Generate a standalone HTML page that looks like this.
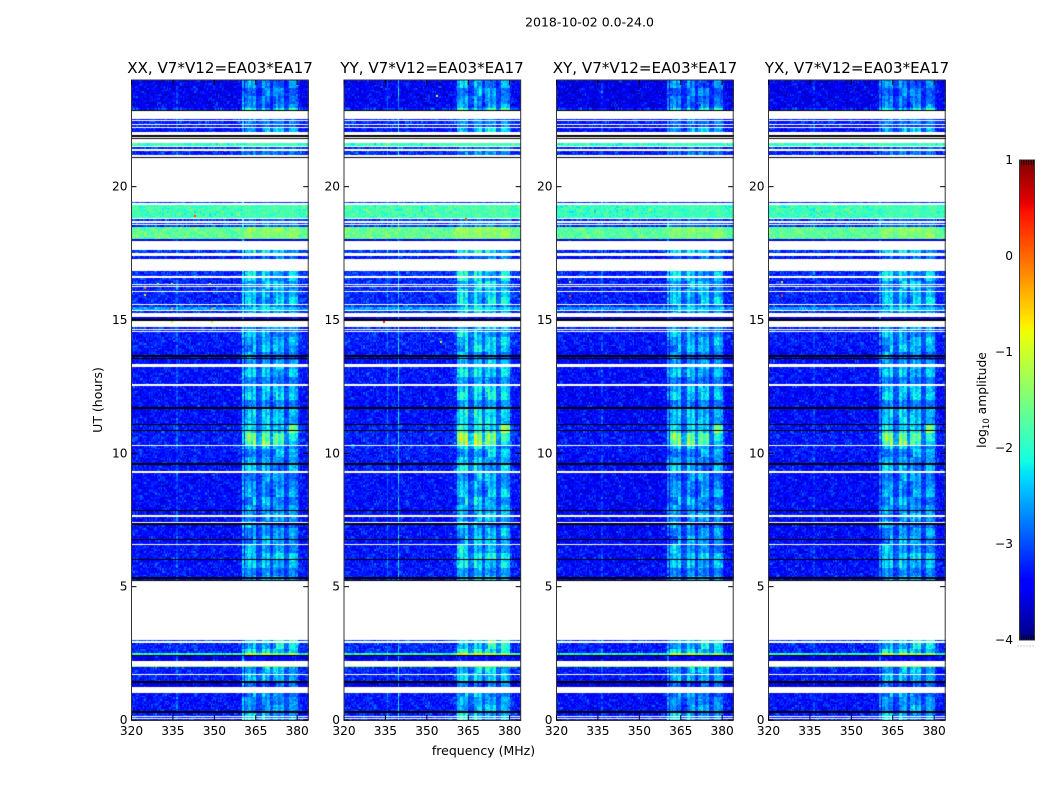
<!DOCTYPE html>
<html lang="en">
<head>
<meta charset="utf-8">
<title>2018-10-02 0.0-24.0</title>
<style>
html,body{margin:0;padding:0;background:#fff;}
#chart{position:relative;width:1050px;height:800px;overflow:hidden;background:#fff;font-family:"DejaVu Sans","Liberation Sans",sans-serif;}
#chart canvas{position:absolute;display:block;}
#overlay{position:absolute;left:0;top:0;}
#overlay text{fill:#000;font-family:"DejaVu Sans","Liberation Sans",sans-serif;}
</style>
</head>
<body>
<div id="chart">
<svg id="overlay" width="1050" height="800" viewBox="0 0 1050 800">
  <text x="589.5" y="26.5" font-size="12.5" text-anchor="middle">2018-10-02 0.0-24.0</text>
  <text x="220" y="73" font-size="15.1" text-anchor="middle">XX, V7*V12=EA03*EA17</text>
  <text x="432" y="73" font-size="15.1" text-anchor="middle">YY, V7*V12=EA03*EA17</text>
  <text x="645" y="73" font-size="15.1" text-anchor="middle">XY, V7*V12=EA03*EA17</text>
  <text x="857" y="73" font-size="15.1" text-anchor="middle">YX, V7*V12=EA03*EA17</text>
  <text x="483.5" y="755" font-size="12.5" text-anchor="middle">frequency (MHz)</text>
  <text transform="translate(102,400) rotate(-90)" font-size="12.5" text-anchor="middle">UT (hours)</text>
  <text transform="translate(986,400) rotate(-90)" font-size="12.3" text-anchor="middle">log<tspan font-size="8.5" dy="3">10</tspan><tspan dy="-3"> amplitude</tspan></text>
</svg>
</div>
<script>
/* ---------- axis data ---------- */
const freqTicks = [320, 335, 350, 365, 380];
const utTicks = [0, 5, 10, 15, 20];
const colorTicks = [1, 0, -1, -2, -3, -4];
const panelNames = ['xx', 'yy', 'xy', 'yx'];

/* ---------- time bands: top edge (UT), log10 amplitude (null = flagged, ZERO = zero amplitude), RFI strength ---------- */
const ZERO = -99;
const bandTop = [
24,22.95,22.875,22.8375,22.5375,22.5,22.4625,22.369,22.294,22.2375,
22.2,22.069,21.919,21.881,21.825,21.7875,21.619,21.525,21.4875,21.431,
21.356,21.225,21.1125,21.075,19.425,19.3875,19.331,18.844,18.769,18.7125,
18.656,18.619,18.544,18.506,18.469,18.056,17.944,17.625,17.55,17.4,
17.2875,16.856,16.65,16.575,16.3875,16.3125,16.275,16.2375,16.0875,16.05,
15.6,15.5625,15.506,15.469,15.394,15.356,15.2625,15.131,15.0375,14.98,
14.719,14.6625,14.625,14.5875,14.55,14.0625,14.025,13.669,13.631,13.575,
13.5375,13.5,13.4625,13.35,13.2375,12.6,12.525,11.719,11.681,11.1,
11.044,10.875,10.8375,10.3125,10.275,10.0875,10.05,9.656,9.581,9.356,
9.281,8.55,8.5125,8.456,8.419,7.875,7.8375,7.669,7.594,7.425,
7.3875,7.3125,6.7875,6.75,6.619,6.581,6.056,5.9875,5.906,5.869,
5.381,5.306,5.25,5.194,3.0,2.944,2.8875,2.494,2.4375,2.4,
2.231,2.025,1.9875,1.725,1.6875,1.5,1.4625,1.3875,1.219,1.031,
0.319,0.244,0.15,0.1125,0.075,0.0375
];
const bandLevel = [
-3.45,-3.2,ZERO,null,-3.3,null,-3.2,null,-3.3,null,
-3.3,null,ZERO,null,ZERO,null,-1.9,null,-3.2,null,
-3.2,null,ZERO,null,-3.1,null,-1.85,null,-3.1,null,
-3.1,null,-3.1,null,-1.65,-3.55,null,-3.1,null,-3.3,
null,-3.15,null,-3.2,null,-3.2,null,-3.2,null,-3.2,
null,-3.2,null,-2.6,null,-3.2,null,-3.6,ZERO,null,
-3.2,null,-3.2,null,-3.25,null,-3.3,ZERO,-3.35,ZERO,
-3.35,-3.35,-3.35,null,-3.3,null,-3.35,ZERO,-3.35,ZERO,
-3.25,ZERO,-3.25,null,-3.25,null,-3.3,ZERO,-3.3,null,
-3.35,null,-3.35,ZERO,-3.35,ZERO,-3.35,null,-3.35,null,
ZERO,-3.35,ZERO,-3.35,null,-3.3,ZERO,-3.35,null,-3.3,
ZERO,-3.35,ZERO,null,-3.0,null,-3.2,-2.0,ZERO,-3.55,
null,-1.3,-3.25,null,-3.25,null,ZERO,-3.5,null,-3.3,
ZERO,-3.25,null,-3.25,null,-3.25
];
const bandRfi = [
0.9,1.3,0,0,0.6,0,0.6,0,0.5,0,
1,0,0,0,0,0,0.1,0,0.4,0,
0.5,0,0,0,0,0,0.05,0,0.2,0,
0.3,0,0.3,0,0.35,0,0,1,0,0.6,
0,1,0,1,0,0.9,0,1,0,1,
0,0.8,0,0.5,0,0.9,0,0.3,0,0,
0.8,0,0.8,0,0.95,0,0.95,0,0.9,0,
0.9,0.9,0.9,0,1,0,1.1,0,1.1,0,
1.7,0,1.85,0,1,0,0.9,0,1,0,
0.9,0,0.9,0,1,0,1,0,0.9,0,
0,0.9,0,0.9,0,1.15,0,1,0,1,
0,1,0,0,1.3,0,1.2,1.1,0,0.2,
0,0.1,1,0,1,0,0,0.7,0,0.85,
0,1,0,1,0,1
];

/* ---------- spectral profile of the RFI block, one value per MHz from 320 to 383 ---------- */
const channelProfile = [
0,0,0,0,0,0,0,0,0,0,
0,0,0,0,0,0,0,0,0,0,
0,0,0,0,0,0,0,0,0,0,
0,0,0,0,0,0,0,0,0,0,
0.1,0.75,1,0.7,1,0.35,0.4,1,0.75,0.95,
0.35,0.8,1,0.7,0.9,0.3,0.35,0.9,0.85,0.7,
0.15,0.05,0,0
];

/* ---------- per-polarisation adjustments ---------- */
const panelLevelOffset = [0, 0.03, -0.05, -0.02];
const panelRfiGain = [0.98, 1.15, 1.02, 1.02];

/* ---------- narrow-band vertical lines ---------- */
const linePanel = [0, 0, 1, 1, 2, 2, 3, 3];
const lineFreq = [336.2, 360.2, 339.7, 335.7, 336.2, 360.2, 336.2, 360.2];
const lineBoost = [0.35, 0.8, 1.1, 0.45, 0.3, 0.6, 0.25, 0.5];

/* ---------- isolated hot pixels ---------- */
const hotPanel = [0,0,0,0,0,0,0,0,0,0, 1,1,1,1, 2,2, 3,3];
const hotUT = [16.24,15.98,16.39,16.39,16.39,15.45,15.45,14.96,14.96,18.94, 14.96,18.82,23.44,14.2, 15.94,16.46, 15.94,16.46];
const hotFreq = [324.3,324.3,329,334,347.9,334,348.6,334,348.6,342.5, 334,363.9,353.5,354.6, 324.2,324.2, 324.2,324.2];
const hotValue = [0,-0.7,-0.9,-0.9,-0.9,-0.3,-0.3,-1,-1,0.2, 0.3,0.2,-0.8,-1, 0.2,-0.6, 0.2,-0.6];

/* ---------- fine texture tiles (speckle and RFI blotches) ---------- */
const speckleA = [-.21,.08,-.34,.17,-.06,.29,-.15,.02,-.27,.41,-.11,.13,-.38,.05,.22,-.19,-.03,.33,-.24,.1,-.31,.19,-.08,.47,-.16,.01,-.29,.25,-.12,.07,-.36,.15,.31,-.22,-.05,.11,-.26,.38,-.14,.03,-.33,.21,-.09,.27,-.18,.06,-.4,.12,.35,-.2,-.02,.16,-.28,.09,-.13,.44,-.23,.04,-.3,.18,-.07];
const speckleB = [.12,-.09,.2,-.15,.03,-.22,.16,.27,-.05,-.18,.08,-.12,.24,-.02,-.25,.1,.18,-.07,-.2,.05,.3,-.14,-.01,.13,-.27,.07,-.1,.22,-.17,.01,.15,-.23,.09,-.04,.26,-.13,-.19,.11,.02,-.08,.19,-.16,.06];
const rowShiftA = [17,3,41,26,9,55,32,12,48,6,37,21,59,15,44,1,29,52,8,35,19,57,24,4,46,13,39,27,50];
const rowShiftB = [11,30,5,38,19,2,27,41,14,33,8,22,36,1,17,29,9,40,25,6,34,13,20];
const rfiWave = [1,.75,1.15,.9,.55,1.05,1.2,.7,.95,1.1,.6,1,.85,1.2,.75,.55,1.05,.9,1.15,.7,.85,1.2,.6,1];

/* ---------- layout ---------- */
const panelLeft = [131.5, 344, 556.5, 768.5];
const panelWidth = 176.7;
const plotTop = 80;
const plotHeight = 640;
const freqMin = 320, freqMax = 384, utMax = 24;
const channelMHz = 0.5, rowHours = 0.06;
const colorMin = -4, colorMax = 1;
const cbLeft = 1019.5, cbWidth = 15, cbTop = 160, cbHeight = 480;

/* ---------- scales ---------- */
function xPx(freq) { return (freq - freqMin) / (freqMax - freqMin) * panelWidth; }
function yPx(ut) { return (1 - ut / utMax) * plotHeight; }
function cbY(v) { return cbTop + (colorMax - v) / (colorMax - colorMin) * cbHeight; }

/* ---------- jet colormap ---------- */
function lerpStops(t, stops) {
  for (let i = 1; i < stops.length; i++) {
    if (t <= stops[i][0]) {
      const a = stops[i - 1], b = stops[i];
      return a[1] + (b[1] - a[1]) * (t - a[0]) / (b[0] - a[0]);
    }
  }
  return stops[stops.length - 1][1];
}
const jetR = [[0,0],[.35,0],[.66,1],[.89,1],[1,.5]];
const jetG = [[0,0],[.125,0],[.375,1],[.64,1],[.91,0],[1,0]];
const jetB = [[0,.5],[.11,1],[.34,1],[.65,0],[1,0]];
const lut = [];
for (let i = 0; i < 512; i++) {
  const t = i / 511;
  lut.push('rgb(' + Math.round(255 * lerpStops(t, jetR)) + ',' + Math.round(255 * lerpStops(t, jetG)) + ',' + Math.round(255 * lerpStops(t, jetB)) + ')');
}
function colorOf(v) {
  if (v < -50) return '#000';
  const t = Math.min(1, Math.max(0, (v - colorMin) / (colorMax - colorMin)));
  return lut[Math.round(t * 511)];
}

/* ---------- heatmap drawing ---------- */
function cellValue(p, band, row, col, freq) {
  const lvl = bandLevel[band];
  if (lvl === ZERO) return ZERO;
  const nA = speckleA[(col * 7 + rowShiftA[(row + p * 3) % rowShiftA.length] * 5) % speckleA.length];
  const nB = speckleB[(col * 13 + rowShiftB[(row + p * 5) % rowShiftB.length] * 3) % speckleB.length];
  const wave = rfiWave[(Math.floor(row / 5) + Math.floor(col / 8) * 3) % rfiWave.length];
  const prof = channelProfile[Math.floor(freq - freqMin)] || 0;
  const texture = prof > 0.2 ? 0.5 : 0.75;
  let v = lvl + panelLevelOffset[p] + texture * (nA + nB);
  v += bandRfi[band] * panelRfiGain[p] * prof * wave;
  for (let l = 0; l < lineFreq.length; l++) {
    if (linePanel[l] === p && Math.abs(freq + channelMHz / 2 - lineFreq[l]) < channelMHz / 2) {
      v += lineBoost[l] * wave * (lvl > -2.5 ? 0 : 1);
    }
  }
  return v;
}
function drawPanel(p, ctx) {
  const nChan = Math.round((freqMax - freqMin) / channelMHz);
  for (let b = 0; b < bandTop.length; b++) {
    if (bandLevel[b] === null) continue;
    const top = bandTop[b];
    const bottom = b + 1 < bandTop.length ? bandTop[b + 1] : 0;
    for (let ut = top; ut > bottom + 1e-6; ut -= rowHours) {
      const row = Math.floor((utMax - ut) / rowHours + 1e-6);
      const y0 = Math.round(yPx(ut));
      let y1 = Math.round(yPx(Math.max(bottom, ut - rowHours)));
      if (y1 <= y0) y1 = y0 + 1;
      for (let c = 0; c < nChan; c++) {
        const f = freqMin + c * channelMHz;
        const x0 = Math.round(xPx(f));
        const x1 = Math.round(xPx(f + channelMHz));
        ctx.fillStyle = colorOf(cellValue(p, b, row, c, f));
        ctx.fillRect(x0, y0, x1 - x0, y1 - y0);
      }
    }
  }
  for (let h = 0; h < hotPanel.length; h++) {
    if (hotPanel[h] !== p) continue;
    ctx.fillStyle = colorOf(hotValue[h]);
    ctx.fillRect(Math.round(xPx(hotFreq[h])), Math.round(yPx(hotUT[h])), 2, 2);
  }
}

const chart = document.getElementById('chart');
const overlay = document.getElementById('overlay');
const NS = 'http://www.w3.org/2000/svg';
function svgEl(tag, attrs, text) {
  const el = document.createElementNS(NS, tag);
  for (const k in attrs) el.setAttribute(k, attrs[k]);
  if (text !== undefined) el.textContent = text;
  overlay.appendChild(el);
  return el;
}

panelNames.forEach(function (name, p) {
  const left = panelLeft[p];
  const canvas = document.createElement('canvas');
  
  
  canvas.width = Math.ceil(panelWidth);
  canvas.height = plotHeight;
  canvas.style.left = Math.round(left) + 'px';
  canvas.style.top = plotTop + 'px';
  chart.insertBefore(canvas, overlay);
  drawPanel(p, canvas.getContext('2d'));

  const frame = svgEl('rect', {x: left, y: plotTop, width: panelWidth, height: plotHeight + 0.5, fill: 'none', stroke: '#333', 'stroke-width': 1});
  
  

  freqTicks.forEach(function (f) {
    const x = left + xPx(f);
    const bottomTick = svgEl('line', {x1: x, x2: x, y1: plotTop + plotHeight, y2: plotTop + plotHeight - 5, stroke: '#000', 'stroke-width': 1});
    
    
    const topTick = svgEl('line', {x1: x, x2: x, y1: plotTop, y2: plotTop + 5, stroke: '#000', 'stroke-width': 1});
    
    
    const label = svgEl('text', {x: x, y: 735, 'font-size': 12.2, 'text-anchor': 'middle'}, String(f));
    
    
  });
  utTicks.forEach(function (u) {
    const y = plotTop + yPx(u);
    const leftTick = svgEl('line', {x1: left, x2: left + 5, y1: y, y2: y, stroke: '#000', 'stroke-width': 1});
    
    
    const rightTick = svgEl('line', {x1: left + panelWidth, x2: left + panelWidth - 5, y1: y, y2: y, stroke: '#000', 'stroke-width': 1});
    
    
    const label = svgEl('text', {x: left - 4, y: y + 4, 'font-size': 12.2, 'text-anchor': 'end'}, String(u));
    
    
  });
});

/* ---------- colorbar ---------- */
const cbCanvas = document.createElement('canvas');


cbCanvas.width = cbWidth;
cbCanvas.height = cbHeight;
cbCanvas.style.left = Math.floor(cbLeft) + 'px';
cbCanvas.style.top = cbTop + 'px';
chart.insertBefore(cbCanvas, overlay);
const cbCtx = cbCanvas.getContext('2d');
for (let y = 0; y < cbHeight; y++) {
  cbCtx.fillStyle = colorOf(colorMax - (y + 0.5) / cbHeight * (colorMax - colorMin));
  cbCtx.fillRect(0, y, cbWidth, 1);
}
const cbFrame = svgEl('rect', {x: cbLeft, y: cbTop, width: cbWidth, height: cbHeight, fill: 'none', stroke: '#333', 'stroke-width': 1});


colorTicks.forEach(function (v) {
  const y = cbY(v);
  const label = svgEl('text', {x: 1013, y: y + 4, 'font-size': 12.2, 'text-anchor': 'end'}, v < 0 ? '\u2212' + Math.abs(v) : String(v));
  
  
});
for (let i = 0; i < 6; i++) {
  const x = cbLeft + 2 + i * 2.4;
  const tickTop = svgEl('line', {x1: x, x2: x, y1: cbTop, y2: cbTop + 5, stroke: '#000', 'stroke-width': 0.8});
  
  
  const tickBottom = svgEl('line', {x1: x, x2: x, y1: cbTop + cbHeight, y2: cbTop + cbHeight - 5, stroke: '#000', 'stroke-width': 0.8});
  
  
  const dot = svgEl('rect', {x: 1017.5 + i * 3, y: 645.5, width: 1, height: 1, fill: '#999'});
  
  
}
</script>
</body>
</html>
